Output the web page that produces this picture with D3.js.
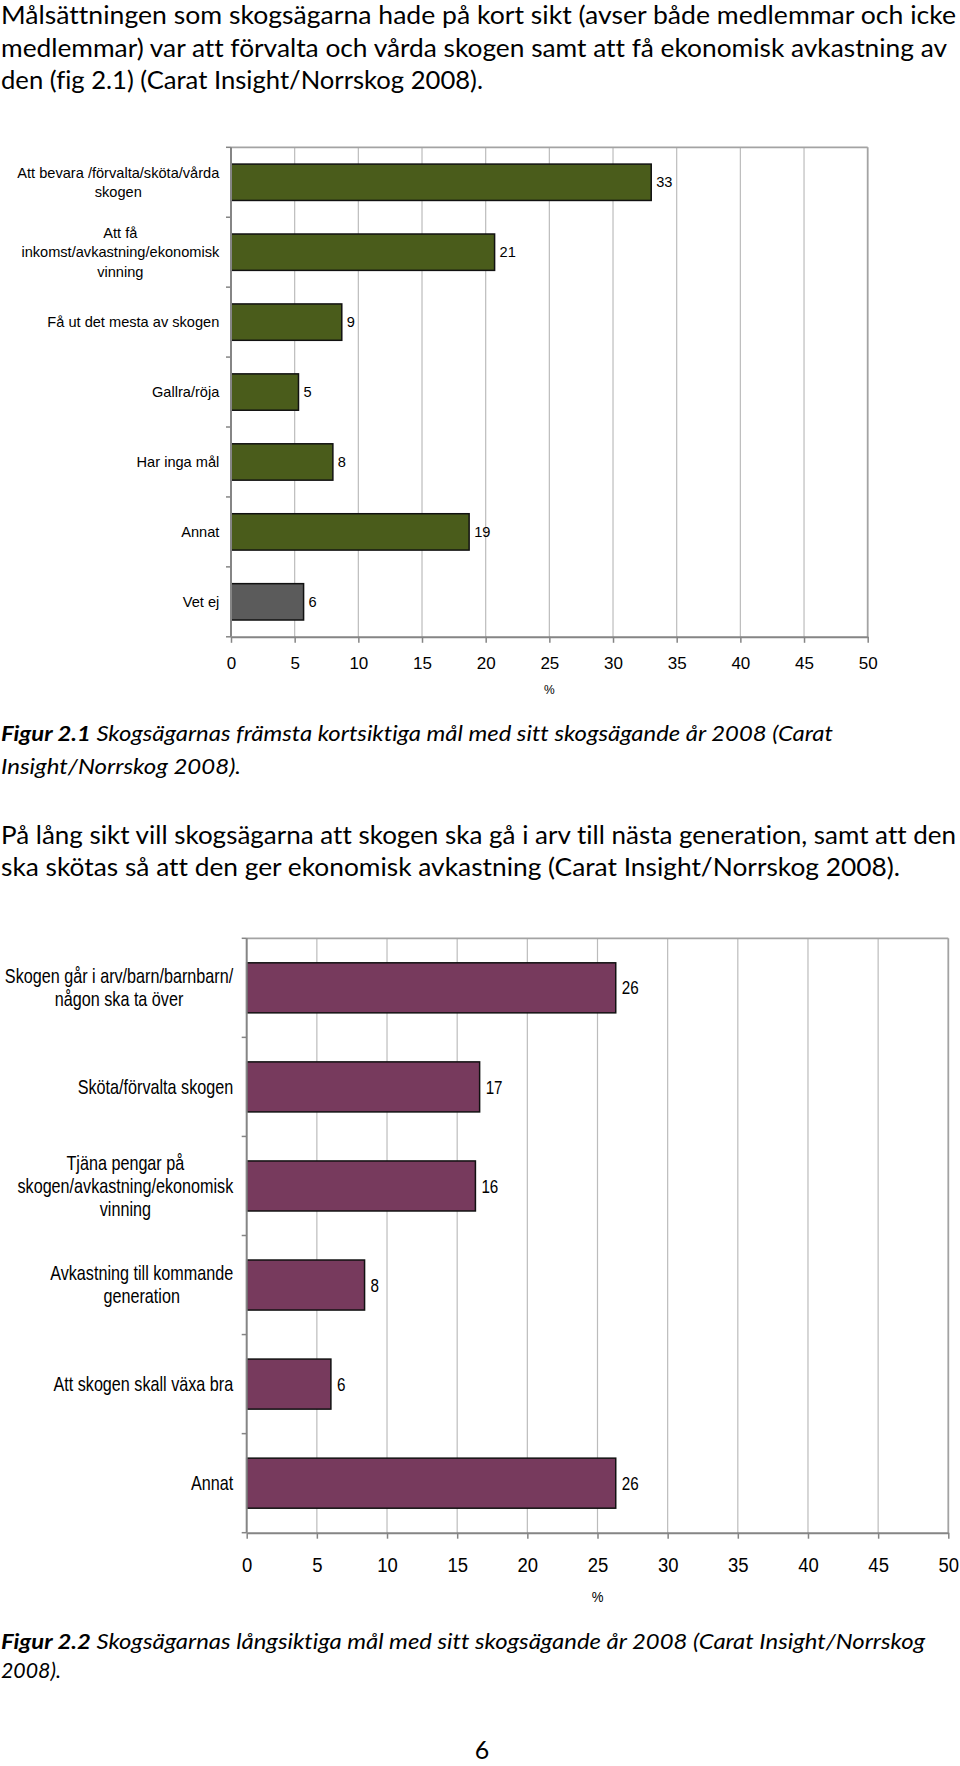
<!DOCTYPE html>
<html><head><meta charset="utf-8">
<script src="https://cdn.jsdelivr.net/npm/d3@7/dist/d3.min.js"></script>
<style>body{margin:0;background:#fff}svg{display:block}text{font-variant-ligatures:none;font-feature-settings:"liga" 0,"clig" 0}</style>
</head><body>
<svg id="page" width="960" height="1766"></svg>
<script>
// ---------- DATA ----------
const cats1 = [
  "Att bevara /förvalta/sköta/vårda\nskogen",
  "Att få\ninkomst/avkastning/ekonomisk\nvinning",
  "Få ut det mesta av skogen",
  "Gallra/röja",
  "Har inga mål",
  "Annat",
  "Vet ej"
];
const vals1 = [33.0, 20.7, 8.7, 5.3, 8.0, 18.7, 5.7];

const cats2 = [
  "Skogen går i arv/barn/barnbarn/\nnågon ska ta över",
  "Sköta/förvalta skogen",
  "Tjäna pengar på\nskogen/avkastning/ekonomisk\nvinning",
  "Avkastning till kommande\ngeneration",
  "Att skogen skall växa bra",
  "Annat"
];
const vals2 = [26.3, 16.6, 16.3, 8.4, 6.0, 26.3];

const xTicks = [0, 5, 10, 15, 20, 25, 30, 35, 40, 45, 50];
const axisTitle = "%";

const para1 = [
  "Målsättningen som skogsägarna hade på kort sikt (avser både medlemmar och icke",
  "medlemmar) var att förvalta och vårda skogen samt att få ekonomisk avkastning av",
  "den (fig 2.1) (Carat Insight/Norrskog 2008)."
];
const para2 = [
  "På lång sikt vill skogsägarna att skogen ska gå i arv till nästa generation, samt att den",
  "ska skötas så att den ger ekonomisk avkastning (Carat Insight/Norrskog 2008)."
];
const cap1Label = "Figur 2.1";
const cap1 = [" Skogsägarnas främsta kortsiktiga mål med sitt skogsägande år 2008 (Carat", "Insight/Norrskog 2008)."];
const cap2Label = "Figur 2.2";
const cap2 = [" Skogsägarnas långsiktiga mål med sitt skogsägande år 2008 (Carat Insight/Norrskog", "2008)."];
const pageNo = "6";

// ---------- DRAW ----------
const svg = d3.select("#page");
const FONT_BODY = "Lato, 'Open Sans', sans-serif";
const FONT_CHART = "'Liberation Sans', Arial, sans-serif";

function bodyLines(lines, baselines, widths, size, italic, label) {
  lines.forEach((ln, i) => {
    const t = svg.append("text")
      .attr("x", 1).attr("y", baselines[i])
      .attr("font-family", FONT_BODY).attr("font-size", size)
      .attr("font-style", italic ? "italic" : "normal")
      .attr("fill", "#000")
      .attr("textLength", widths[i]).attr("lengthAdjust", "spacingAndGlyphs");
    if (label && i === 0) t.append("tspan").attr("font-weight", "bold").text(label);
    t.append("tspan").text(ln);
  });
}

bodyLines(para1, [24, 56.5, 89], [955, 946, 482], 25.5, false);
bodyLines(cap1, [741, 774], [832, 240], 21, true, cap1Label);
bodyLines(para2, [843.5, 876], [955, 899], 25.5, false);
bodyLines(cap2, [1649, 1678], [924, 60], 21, true, cap2Label);

svg.append("text").attr("x", 482).attr("y", 1759)
  .attr("text-anchor", "middle").attr("font-family", FONT_BODY)
  .attr("font-size", 25).attr("fill", "#000").text(pageNo);

function drawChart(o) {
  const g = svg.append("g");
  const x = d3.scaleLinear().domain([0, 50]).range([o.left, o.right]);
  const y = d3.scaleBand().domain(o.cats).range([o.top, o.bottom])
    .paddingInner(o.pad).paddingOuter(o.pad / 2);

  // gridlines
  g.selectAll("line.grid").data(xTicks.filter(t => t > 0)).join("line")
    .attr("class", "grid")
    .attr("x1", d => x(d)).attr("x2", d => x(d))
    .attr("y1", o.top).attr("y2", o.bottom)
    .attr("stroke", d => d === 50 ? "#a3a3a3" : "#bcbcbc")
    .attr("stroke-width", d => d === 50 ? 1.8 : 1.2);
  // top border
  g.append("line").attr("x1", o.left).attr("x2", o.right)
    .attr("y1", o.top).attr("y2", o.top)
    .attr("stroke", "#a3a3a3").attr("stroke-width", 1.8);

  // bars
  g.selectAll("rect.bar").data(o.cats).join("rect")
    .attr("class", "bar")
    .attr("x", x(0)).attr("y", d => y(d))
    .attr("width", (d, i) => x(o.vals[i]) - x(0))
    .attr("height", y.bandwidth())
    .attr("fill", (d, i) => o.fill(d, i))
    .attr("stroke", "#111").attr("stroke-width", 1.5);

  // value labels
  o.cats.forEach((c, i) => {
    g.append("text")
      .attr("transform", `translate(${x(o.vals[i]) + o.valGap},${y(c) + y.bandwidth() / 2}) scale(${o.valSX},1)`)
      .attr("dy", "0.35em")
      .attr("font-family", FONT_CHART).attr("font-size", o.valFont).attr("fill", "#000")
      .text(d3.format(".0f")(o.vals[i]));
  });

  // category labels
  o.cats.forEach(c => {
    const lines = c.split("\n");
    const lg = g.append("g");
    let maxW = 0;
    lines.forEach((ln, j) => {
      const t = lg.append("text")
        .attr("x", 0).attr("y", (j - (lines.length - 1) / 2) * o.lh)
        .attr("dy", "0.35em").attr("text-anchor", "middle")
        .attr("font-family", FONT_CHART).attr("font-size", o.labelFont).attr("fill", "#000")
        .text(ln);
      maxW = Math.max(maxW, t.node().getComputedTextLength());
    });
    lg.attr("transform", `translate(${o.labelRight - maxW * o.sx / 2},${y(c) + y.bandwidth() / 2}) scale(${o.sx},1)`);
  });

  // left axis
  g.append("line").attr("x1", o.left).attr("x2", o.left)
    .attr("y1", o.top).attr("y2", o.bottom)
    .attr("stroke", "#858585").attr("stroke-width", 2);
  g.selectAll("line.ytick").data(d3.range(o.cats.length + 1)).join("line")
    .attr("class", "ytick")
    .attr("x1", o.left - 5).attr("x2", o.left)
    .attr("y1", i => o.top + i * (o.bottom - o.top) / o.cats.length)
    .attr("y2", i => o.top + i * (o.bottom - o.top) / o.cats.length)
    .attr("stroke", "#858585").attr("stroke-width", 1.5);

  // bottom axis
  const ax = g.append("g").attr("transform", `translate(0,${o.bottom})`)
    .call(d3.axisBottom(x).tickValues(xTicks).tickSize(6).tickSizeOuter(0).tickFormat(d3.format("d")));
  ax.select(".domain").attr("stroke", "#858585").attr("stroke-width", 2);
  ax.selectAll(".tick line").attr("stroke", "#858585").attr("stroke-width", 1.5);
  ax.selectAll(".tick text")
    .attr("y", o.tickY - o.bottom).attr("dy", "0.35em")
    .attr("transform", `scale(${o.tickSX},1)`)
    .attr("font-family", FONT_CHART).attr("font-size", o.tickFont).attr("fill", "#000");

  g.append("text")
    .attr("transform", `translate(${x(25)},${o.pctY}) scale(${o.tickSX},1)`)
    .attr("dy", "0.35em").attr("text-anchor", "middle")
    .attr("font-family", FONT_CHART).attr("font-size", o.pctFont).attr("fill", "#000")
    .text(axisTitle);
}

drawChart({
  cats: cats1, vals: vals1,
  left: 231, right: 867.7, top: 147.3, bottom: 636.8, pad: 0.48,
  labelRight: 219.3, labelFont: 14.6, lh: 19.3, sx: 1,
  valFont: 14.6, valSX: 1, valGap: 5,
  tickFont: 17, tickSX: 1, tickY: 663, pctY: 690, pctFont: 12,
  fill: (d, i) => d === "Vet ej" ? "#5b5b5b" : "#4a5c1b"
});

drawChart({
  cats: cats2, vals: vals2,
  left: 246.7, right: 948.3, top: 938.3, bottom: 1532.7, pad: 0.495,
  labelRight: 233.3, labelFont: 19.5, lh: 23.3, sx: 0.83,
  valFont: 19, valSX: 0.8, valGap: 6,
  tickFont: 21, tickSX: 0.88, tickY: 1565, pctY: 1597, pctFont: 15,
  fill: () => "#773a5d"
});
</script>
</body></html>
